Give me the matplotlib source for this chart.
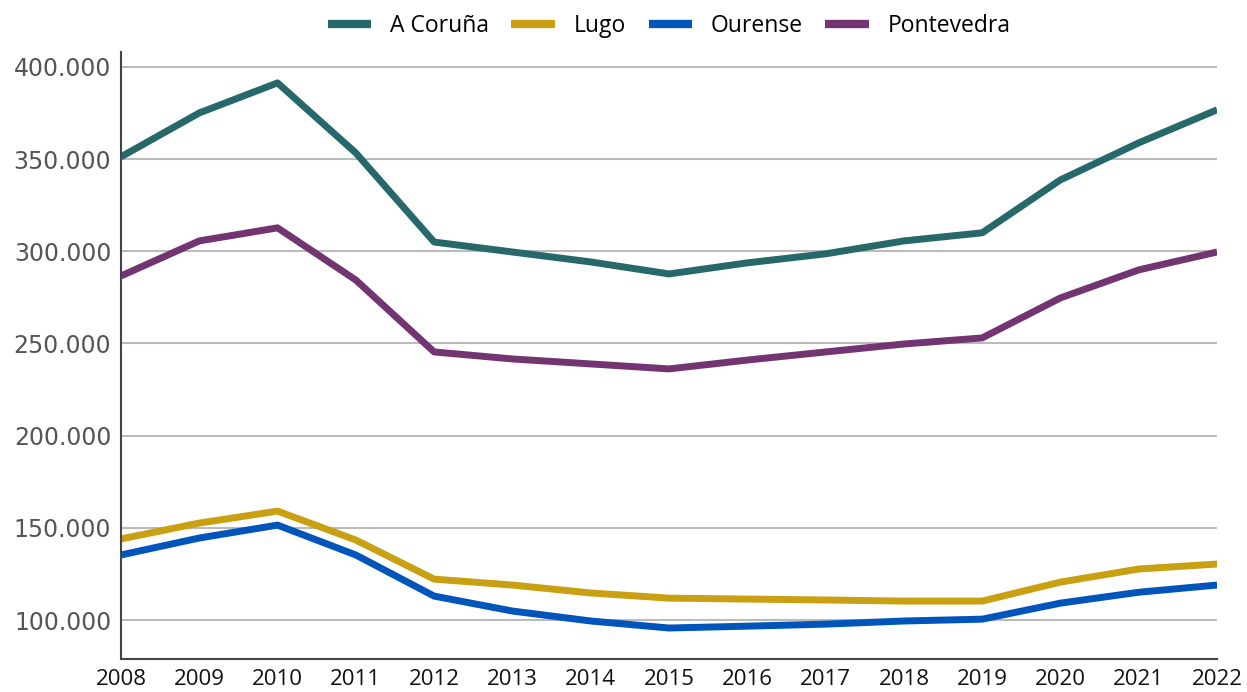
import matplotlib.pyplot as plt
from matplotlib.ticker import FuncFormatter

years = list(range(2008, 2023))
coruna = [351.2, 375.0, 391.3, 353.3, 305.0, 299.6, 294.2, 287.7, 293.7, 298.6, 305.6, 310.0, 338.7, 358.8, 376.7]
lugo = [144.0, 152.6, 159.1, 143.4, 122.2, 119.0, 114.7, 111.9, 111.4, 110.9, 110.3, 110.3, 120.6, 127.7, 130.4]
ourense = [135.3, 144.5, 151.5, 135.3, 113.0, 104.9, 99.5, 95.7, 96.7, 97.8, 99.5, 100.5, 109.2, 115.1, 119.0]
pontevedra = [286.6, 305.6, 312.7, 284.4, 245.4, 241.6, 238.9, 236.2, 241.0, 245.4, 249.7, 253.0, 274.7, 289.9, 299.6]

series = [
    ("A Coruña", coruna, "#27686b"),
    ("Lugo", lugo, "#c9a012"),
    ("Ourense", ourense, "#0055bb"),
    ("Pontevedra", pontevedra, "#733572"),
]

fig = plt.figure(figsize=(12.47, 6.92), dpi=100)
ax = fig.add_axes([0.097, 0.0477, 0.879, 0.8773])

for name, vals, col in series:
    ax.plot(years, [v * 1000 for v in vals], color=col, lw=5, label=name, solid_capstyle="butt")

ax.set_xlim(2008, 2022)
ax.set_ylim(78900, 408100)
ax.set_yticks([100000, 150000, 200000, 250000, 300000, 350000, 400000])
ax.yaxis.set_major_formatter(FuncFormatter(lambda v, p: f"{int(v):,}".replace(",", ".")))
ax.set_xticks(years)
ax.grid(axis="y", color="#bbbbbb", lw=1.5)
ax.set_axisbelow(True)

for s in ["top", "right"]:
    ax.spines[s].set_visible(False)
for s in ["left", "bottom"]:
    ax.spines[s].set_color("#444444")
    ax.spines[s].set_linewidth(1.5)

ax.tick_params(axis="both", length=0)
ax.tick_params(axis="y", pad=7)
ax.tick_params(axis="x", pad=7)
for lab in ax.get_yticklabels():
    lab.set_fontfamily("DejaVu Sans")
    lab.set_fontsize(17)
    lab.set_color("#555555")
for lab in ax.get_xticklabels():
    lab.set_fontfamily("Open Sans")
    lab.set_fontsize(16)
    lab.set_color("#111111")

leg = ax.legend(loc="lower center", bbox_to_anchor=(0.5, 1.0), ncol=4, frameon=False,
                prop={"family": "Open Sans", "size": 16.5}, handlelength=1.9,
                columnspacing=1.0, handletextpad=0.8, borderaxespad=0.2)
for h in leg.get_lines():
    h.set_linewidth(6)

fig.savefig("out.png", dpi=100)
